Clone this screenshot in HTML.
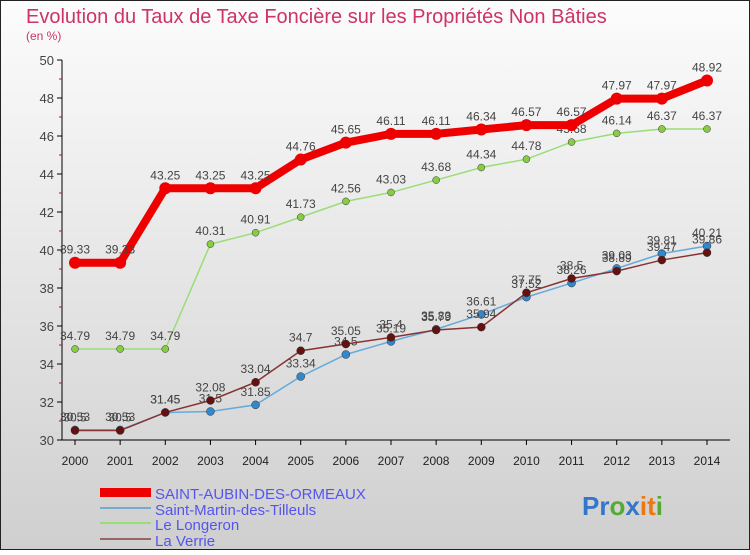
<!DOCTYPE html>
<html><head><meta charset="utf-8"><style>
body{margin:0;width:750px;height:550px;overflow:hidden;font-family:"Liberation Sans",sans-serif}
</style></head><body>
<svg id="c" width="750" height="550" xmlns="http://www.w3.org/2000/svg">
<defs><linearGradient id="bg" x1="0" y1="0" x2="0" y2="1"><stop offset="0" stop-color="#fcfcfc"/><stop offset="1" stop-color="#cfcfcf"/></linearGradient></defs>
<rect x="0.5" y="0.5" width="749" height="549" fill="url(#bg)" stroke="#222"/>
<text x="26" y="23" font-size="20" fill="#cc3366">Evolution du Taux de Taxe Foncière sur les Propriétés Non Bâties</text>
<text x="26" y="40" font-size="12" fill="#cc3366">(en %)</text>
<g id="axes"></g><g id="series"></g>
<g>
<rect x="100" y="488" width="51" height="9" fill="#ee0000"/>
<text x="155" y="499" font-size="15" fill="#5555ee">SAINT-AUBIN-DES-ORMEAUX</text>
<rect x="100" y="507" width="51" height="2" fill="#77aacc"/>
<text x="155" y="515" font-size="15" fill="#5555ee">Saint-Martin-des-Tilleuls</text>
<rect x="100" y="522" width="51" height="2" fill="#99dd77"/>
<text x="155" y="530" font-size="15" fill="#5555ee">Le Longeron</text>
<rect x="100" y="538" width="51" height="2" fill="#996666"/>
<text x="155" y="546" font-size="15" fill="#5555ee">La Verrie</text>
</g>
<text x="582" y="515" font-size="26" font-weight="bold"><tspan fill="#3377cc">Pr</tspan><tspan fill="#55aa33">o</tspan><tspan fill="#3377cc">x</tspan><tspan fill="#ee7711">i</tspan><tspan fill="#ee7711">t</tspan><tspan fill="#55aa33">i</tspan></text>
</svg>
<script>
const years=[2000,2001,2002,2003,2004,2005,2006,2007,2008,2009,2010,2011,2012,2013,2014];
const yTicks=[30,32,34,36,38,40,42,44,46,48,50];
const aubin=[39.33,39.33,43.25,43.25,43.25,44.76,45.65,46.11,46.11,46.34,46.57,46.57,47.97,47.97,48.92];
const martin=[30.53,30.53,31.45,31.5,31.85,33.34,34.5,35.19,35.83,36.61,37.52,38.26,39.03,39.81,40.21];
const longeron=[34.79,34.79,34.79,40.31,40.91,41.73,42.56,43.03,43.68,44.34,44.78,45.68,46.14,46.37,46.37];
const verrie=[30.5,30.5,31.45,32.08,33.04,34.7,35.05,35.4,35.79,35.94,37.75,38.5,38.89,39.47,39.86];
const NS="http://www.w3.org/2000/svg";
const X=i=>75+i*(707-75)/(years.length-1);
const Y=v=>440-(v-30)*19;
function mk(t,a,p){const e=document.createElementNS(NS,t);for(const k in a)e.setAttribute(k,a[k]);p.appendChild(e);return e;}
const ax=document.getElementById('axes');
let yl=mk('line',{x1:62,y1:60,x2:62,y2:440,stroke:'#000'},ax);

let xl=mk('line',{x1:62,y1:440,x2:730,y2:440,stroke:'#000'},ax);

yTicks.forEach(v=>{
 mk('line',{x1:57,y1:Y(v),x2:62,y2:Y(v),stroke:'#000'},ax);
 if(v<50)mk('line',{x1:59,y1:Y(v+1),x2:62,y2:Y(v+1),stroke:'#e00'},ax);
 const t=mk('text',{x:54,y:Y(v)+5,'font-size':13,fill:'#444','text-anchor':'end'},ax);t.textContent=v;
 
});
years.forEach((y,i)=>{
 mk('line',{x1:X(i),y1:440,x2:X(i),y2:445,stroke:'#000'},ax);
 const t=mk('text',{x:X(i),y:465,'font-size':12,fill:'#222','text-anchor':'middle'},ax);t.textContent=y;
 
});
const sg=document.getElementById('series');
function draw(vals,name,color,w,r,fill){
 const g=mk('g',{},sg);
 
 mk('polyline',{points:vals.map((v,i)=>X(i)+','+Y(v)).join(' '),fill:'none',stroke:color,'stroke-width':w},g);
 vals.forEach((v,i)=>{
  const c=mk('circle',{cx:X(i),cy:Y(v),r:r,fill:fill,stroke:w>3?'none':'#333','stroke-width':0.5},g);
  
  const t=mk('text',{x:X(i),y:Y(v)-9,'font-size':12,fill:'#444','text-anchor':'middle'},g);t.textContent=v;
  
 });
}
draw(longeron,'le-longeron','#99dd77',1.5,3.5,'#88cc44');
draw(martin,'saint-martin','#66aadd',1.5,4,'#3388cc');
draw(verrie,'la-verrie','#883333',1.5,4,'#661111');
draw(aubin,'saint-aubin','#ee0000',8,6,'#ee0000');
</script>
</body></html>
